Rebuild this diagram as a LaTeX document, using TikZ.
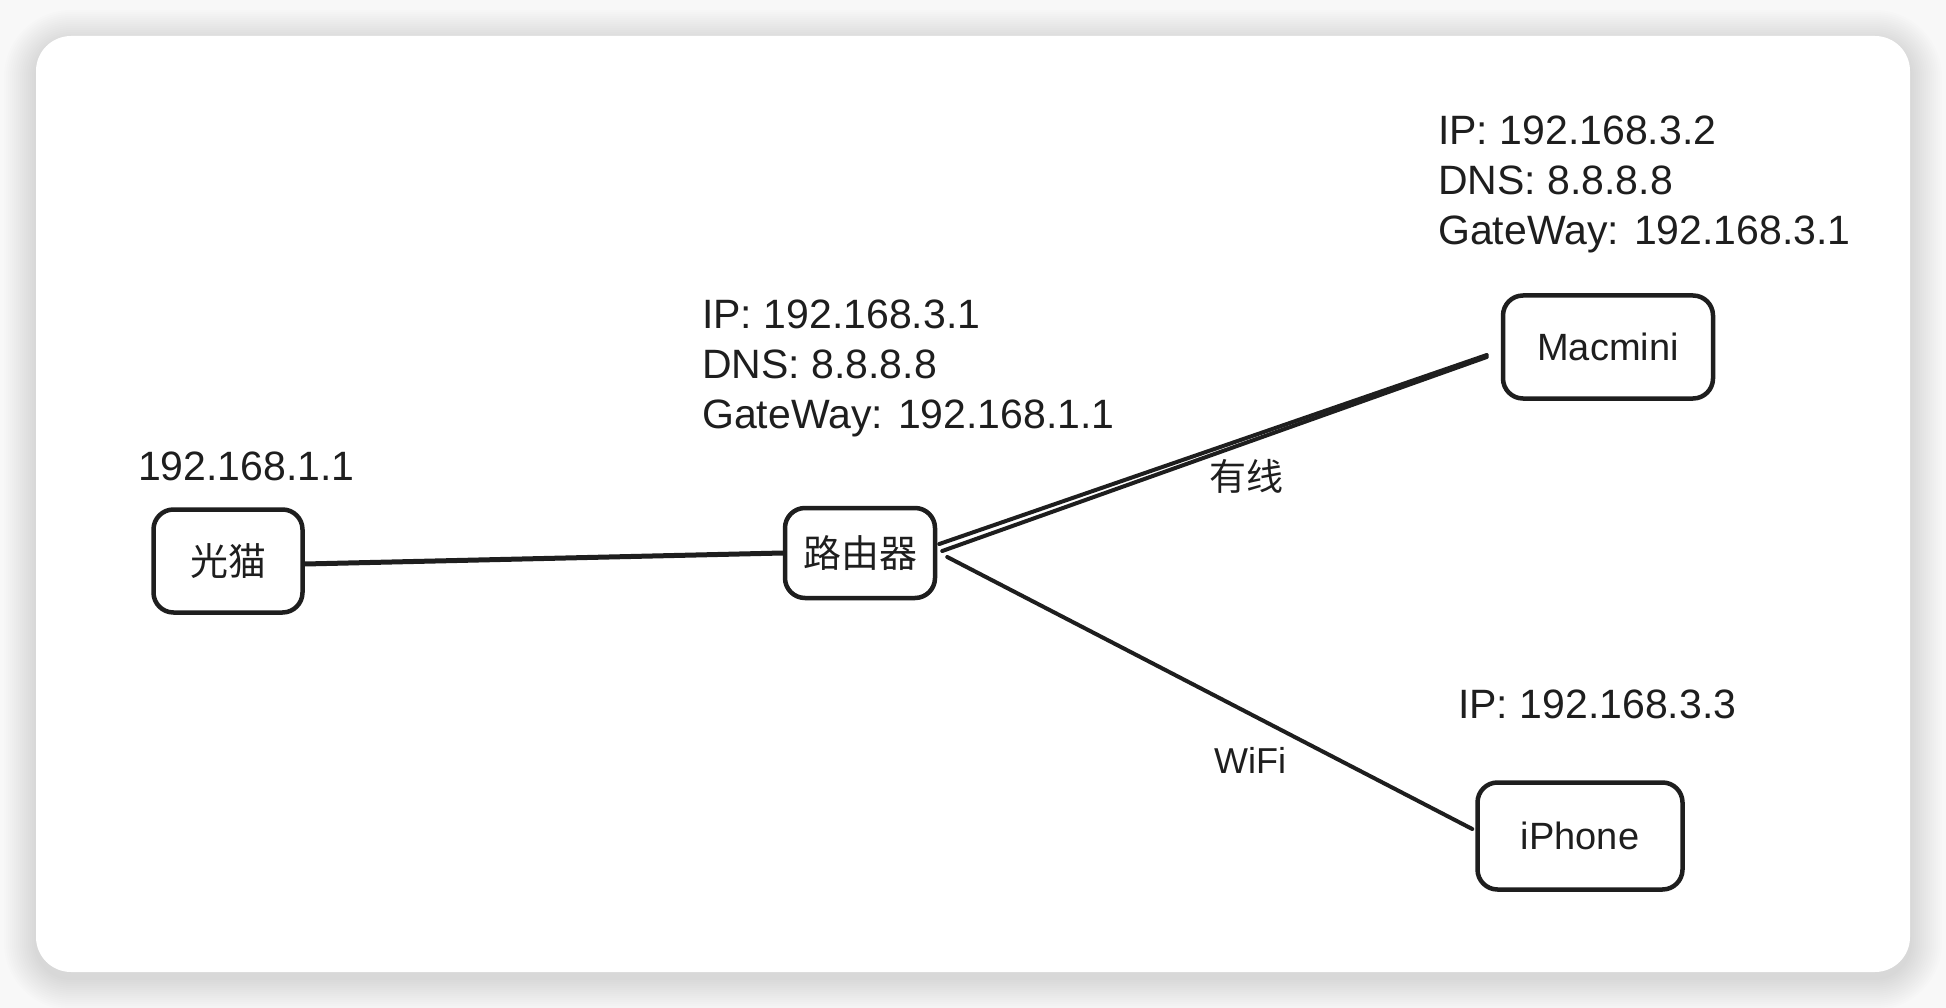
\documentclass[tikz,border=0pt]{standalone}
\usepackage{fontspec}
\setmainfont{Liberation Sans}
\newfontfamily\cjk{Noto Sans CJK SC}
\definecolor{ink}{HTML}{1E1E1E}
\definecolor{pagebg}{HTML}{F8F8F8}
\tikzset{
  devbox/.style={draw=ink, line width=4.5pt, rounded corners=20pt, fill=white, inner sep=0pt, text=ink},
  lbl/.style={anchor=base west, inner sep=0pt, text=ink, font=\fontsize{41}{50}\selectfont},
  cjklbl/.style={inner sep=0pt, text=ink, font=\cjk\fontsize{37}{44}\selectfont},
  wire/.style={draw=ink, line width=4pt, line cap=round},
}
\begin{document}
\begin{tikzpicture}[x=1pt,y=-1pt]
\useasboundingbox (0,0) rectangle (1946,1008);
\fill[pagebg] (0,0) rectangle (1946,1008);
% shadow
\foreach \i in {1,...,16}{
  \fill[black, opacity=0.007, rounded corners={35+2*\i}] (36-2*\i,36-2*\i+6) rectangle (1910+2*\i,972+2*\i+6);
}
% card
\fill[white, rounded corners=35pt] (36,36) rectangle (1910,972);

% devices
\node[devbox, minimum width=149pt, minimum height=103pt, font=\cjk\fontsize{38}{44}\selectfont] (gm) at (228,561) {光猫};
\node[devbox, minimum width=150pt, minimum height=90pt, font=\cjk\fontsize{38}{44}\selectfont] (rt) at (860,553) {路由器};
\node[devbox, minimum width=210pt, minimum height=103pt, font=\fontsize{38}{44}\selectfont] (mm) at (1608,347) {Macmini};
\node[devbox, minimum width=205pt, minimum height=107pt, font=\fontsize{38}{44}\selectfont] (ip) at (1580,836) {iPhone};

% connectors
\draw[wire, line width=5pt] ([yshift=-3pt]gm.east) -- (rt.west);
\draw[wire] ([shift={(2,-9)}]rt.east) -- ([shift={(-14,8)}]mm.west);
\draw[wire] ([shift={(5,-2)}]rt.east) -- ([shift={(-14,10)}]mm.west);
\draw[wire] ([shift={(10,4)}]rt.east) -- ([shift={(-3,-7)}]ip.west);

% labels
\node[lbl] (gmip) at (138,480) {192.168.1.1};

\node[lbl] (rtip) at (702,328) {IP: 192.168.3.1};
\node[lbl] (rtdns) at (702,378) {DNS: 8.8.8.8};
\node[lbl] (rtgw) at (702,428) {GateWay: 192.168.1.1};

\node[lbl] (mmip) at (1438,145) {IP: 192.168.3.2};
\node[lbl] (mmdns) at (1438,195) {DNS: 8.8.8.8};
\node[lbl] (mmgw) at (1438,245) {GateWay: 192.168.3.1};

\node[lbl] (ipip) at (1458,718) {IP: 192.168.3.3};

\node[cjklbl] (wired) at (1246,476) {有线};
\node[inner sep=0pt, text=ink, font=\fontsize{36}{44}\selectfont] (wifi) at (1250,760) {WiFi};
\end{tikzpicture}
\end{document}
